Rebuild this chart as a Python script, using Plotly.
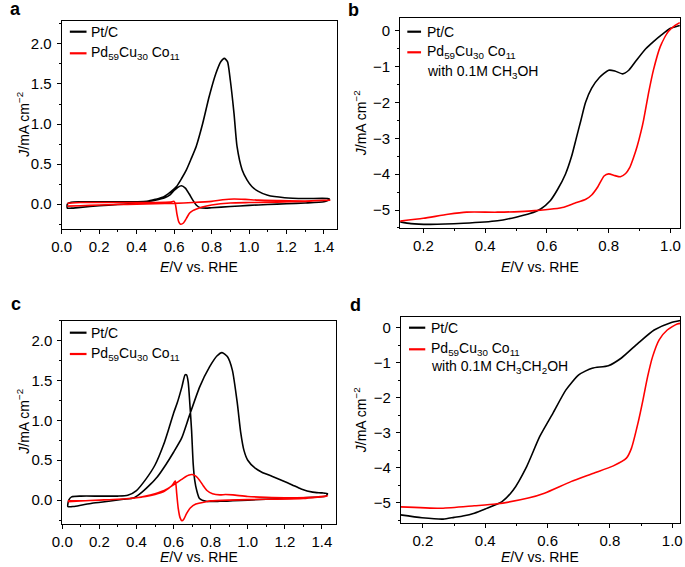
import plotly.graph_objects as go

W, H = 685, 567

# ---------------- DATA ----------------
# Panel a: CV in methanol (E / V vs RHE, J / mA cm^-2)
a_pt_E = [0.03, 0.05, 0.1, 0.2, 0.3, 0.4, 0.455, 0.5, 0.543, 0.58, 0.613, 0.64, 0.665, 0.69, 0.718, 0.753, 0.787,
          0.823, 0.85, 0.868, 0.885, 0.90, 0.92, 0.936, 0.963, 0.99, 1.015, 1.05, 1.10, 1.19, 1.3, 1.42, 1.43,
          1.42, 1.40, 1.3, 1.2, 1.1, 1.0, 0.9, 0.8, 0.77, 0.74, 0.718, 0.70, 0.68, 0.66, 0.639, 0.62, 0.60, 0.58,
          0.55, 0.5, 0.45, 0.4, 0.3, 0.2, 0.1, 0.05, 0.03, 0.03]
a_pt_J = [0.0, 0.025, 0.03, 0.03, 0.03, 0.03, 0.035, 0.06, 0.09, 0.15, 0.22, 0.32, 0.425, 0.56, 0.72, 1.01, 1.34,
          1.63, 1.78, 1.82, 1.78, 1.55, 1.13, 0.72, 0.43, 0.30, 0.22, 0.16, 0.11, 0.08, 0.07, 0.07, 0.06,
          0.045, 0.03, 0.015, 0.005, -0.005, -0.015, -0.03, -0.045, -0.05, -0.045, -0.01, 0.05, 0.13, 0.2, 0.23,
          0.21, 0.17, 0.12, 0.08, 0.05, 0.03, 0.015, -0.005, -0.02, -0.04, -0.05, -0.05, 0.0]
a_pd_E = [0.03, 0.1, 0.2, 0.3, 0.4, 0.5, 0.6, 0.7, 0.8, 0.86, 0.92, 0.98, 1.05, 1.15, 1.3, 1.43,
          1.3, 1.15, 1.0, 0.9, 0.8, 0.75, 0.72, 0.70, 0.683, 0.665, 0.65, 0.635, 0.625, 0.615, 0.607, 0.60,
          0.58, 0.5, 0.4, 0.3, 0.2, 0.1, 0.03]
a_pd_J = [-0.025, -0.02, -0.01, -0.005, 0.0, 0.005, 0.01, 0.02, 0.035, 0.055, 0.065, 0.06, 0.05, 0.045, 0.04, 0.05,
          0.035, 0.025, 0.02, 0.015, -0.01, -0.035, -0.06, -0.08, -0.11, -0.18, -0.235, -0.25, -0.22, -0.12, 0.0, 0.035,
          0.025, 0.02, 0.02, 0.02, 0.02, 0.02, 0.01]

# Panel b: ORR polarization with 0.1 M CH3OH
b_pt_E = [0.125, 0.16, 0.22, 0.33, 0.44, 0.50, 0.545, 0.58, 0.61, 0.635, 0.66, 0.68, 0.695, 0.71, 0.725, 0.745,
          0.77, 0.80, 0.82, 0.845, 0.865, 0.89, 0.92, 0.945, 0.97, 1.0, 1.03]
b_pt_J = [-5.33, -5.38, -5.40, -5.37, -5.30, -5.20, -5.10, -4.97, -4.75, -4.42, -4.0, -3.5, -3.0, -2.5, -2.0, -1.6,
          -1.3, -1.1, -1.12, -1.2, -1.1, -0.82, -0.5, -0.3, -0.12, 0.07, 0.15]
b_pd_E = [0.125, 0.20, 0.28, 0.34, 0.44, 0.54, 0.65, 0.69, 0.726, 0.745, 0.765, 0.785, 0.80, 0.82, 0.838, 0.855,
          0.868, 0.88, 0.892, 0.905, 0.913, 0.929, 0.945, 0.967, 0.993, 1.015, 1.03]
b_pd_J = [-5.31, -5.23, -5.12, -5.06, -5.06, -5.03, -4.93, -4.81, -4.70, -4.58, -4.35, -4.05, -3.99, -4.04, -4.07,
          -3.98, -3.82, -3.55, -3.23, -2.8, -2.49, -1.74, -1.09, -0.44, -0.02, 0.15, 0.23]

# Panel c: CV in ethanol
c_pt_E = [0.03, 0.06, 0.1, 0.16, 0.25, 0.33, 0.388, 0.43, 0.476, 0.512, 0.56, 0.60, 0.644, 0.684, 0.741, 0.794,
          0.835, 0.861, 0.89, 0.917, 0.944, 0.962, 0.98, 1.0, 1.04, 1.076, 1.13, 1.182, 1.24, 1.288, 1.35, 1.40, 1.43,
          1.42, 1.3, 1.2, 1.0, 0.85, 0.776, 0.74, 0.725, 0.714, 0.706, 0.697, 0.688, 0.679, 0.67, 0.662, 0.645,
          0.62, 0.60, 0.575, 0.547, 0.50, 0.45, 0.40, 0.353, 0.3, 0.2, 0.1, 0.05, 0.035, 0.03]
c_pt_J = [-0.08, -0.08, -0.065, -0.04, -0.015, 0.01, 0.03, 0.1, 0.2, 0.29, 0.45, 0.6, 0.78, 1.05, 1.42, 1.67,
          1.81, 1.85, 1.80, 1.63, 1.21, 0.85, 0.62, 0.50, 0.40, 0.35, 0.30, 0.25, 0.19, 0.14, 0.10, 0.09, 0.08,
          0.05, 0.03, 0.02, 0.0, -0.015, -0.015, 0.02, 0.12, 0.25, 0.45, 0.88, 1.2, 1.48, 1.57, 1.57, 1.42,
          1.22, 1.09, 0.9, 0.7, 0.44, 0.26, 0.12, 0.06, 0.05, 0.05, 0.05, 0.04, 0.0, -0.08]
c_pd_E = [0.03, 0.1, 0.2, 0.3, 0.4, 0.45, 0.5, 0.55, 0.6, 0.65, 0.68, 0.70, 0.72, 0.74, 0.76, 0.78, 0.81, 0.85,
          0.88, 0.92, 1.0, 1.1, 1.2, 1.35, 1.43,
          1.3, 1.1, 0.9, 0.8, 0.776, 0.72, 0.69, 0.67, 0.655, 0.645, 0.635, 0.625, 0.617, 0.61, 0.603, 0.59,
          0.55, 0.5, 0.45, 0.4, 0.3, 0.2, 0.1, 0.03]
c_pd_J = [-0.01, -0.01, 0.0, 0.01, 0.03, 0.05, 0.08, 0.12, 0.19, 0.27, 0.31, 0.32, 0.30, 0.25, 0.18, 0.12, 0.08, 0.065,
          0.07, 0.065, 0.045, 0.035, 0.03, 0.035, 0.05,
          0.02, 0.01, 0.0, -0.01, -0.02, -0.05, -0.1, -0.17, -0.24, -0.26, -0.22, -0.1, 0.08, 0.24, 0.22, 0.18,
          0.11, 0.07, 0.045, 0.03, 0.01, 0.0, -0.01, -0.02]

# Panel d: ORR polarization with 0.1 M CH3CH2OH
d_pt_E = [0.128, 0.197, 0.265, 0.30, 0.328, 0.365, 0.40, 0.454, 0.49, 0.533, 0.575, 0.617, 0.659,
          0.70, 0.743, 0.795, 0.837, 0.89, 0.942, 0.995, 1.026]
d_pt_J = [-5.35, -5.43, -5.47, -5.42, -5.38, -5.30, -5.18, -4.97, -4.64, -3.97, -3.11, -2.45, -1.78,
          -1.35, -1.16, -1.09, -0.87, -0.45, -0.07, 0.14, 0.2]
d_pd_E = [0.128, 0.26, 0.365, 0.433, 0.538, 0.59, 0.675, 0.748, 0.811, 0.853, 0.869, 0.89, 0.906, 0.921, 0.937,
          0.958, 0.984, 1.016, 1.03]
d_pd_J = [-5.12, -5.16, -5.09, -5.04, -4.87, -4.73, -4.40, -4.16, -3.95, -3.73, -3.45, -2.73, -2.07, -1.40, -0.83,
          -0.35, -0.07, 0.1, 0.12]

legend_pt = "Pt/C"
legend_pd = "Pd<sub>59</sub>Cu<sub>30</sub> Co<sub>11</sub>"
legend_b_extra = "with 0.1M CH<sub>3</sub>OH"
legend_d_extra = "with 0.1M CH<sub>3</sub>CH<sub>2</sub>OH"
xtitle = "<i>E</i>/V vs. RHE"
ytitle = "<i>J</i>/mA cm<sup>−2</sup>"

# ---------------- LAYOUT HELPERS ----------------
def fx(px):
    return px / W

def fy(py):
    return 1 - py / H

FONT = "Arial"
BLACK = "#000000"
RED = "#ff0000"
LW = 1.6
TICKSIZE = 15
LEGSIZE = 14
TITLESIZE = 14

panels = {
    "1": ((52.7, 333.0), (20.7, 229.0), [0.0, 1.468], [-0.31, 2.29], 0.2, 0.1, 0.5, 0.25),
    "2": ((397.7, 683.0), (18.3, 228.3), [0.125, 1.031], [-5.51, 0.35], 0.2, 0.1, 1, 0.5),
    "3": ((53.3, 332.7), (320.7, 524.0), [0.0, 1.478], [-0.30, 2.25], 0.2, 0.1, 0.5, 0.25),
    "4": ((398.3, 683.0), (316.7, 523.3), [0.129, 1.025], [-5.59, 0.31], 0.2, 0.1, 1, 0.5),
}

fig = go.Figure()

series = [
    ("1", a_pt_E, a_pt_J, BLACK), ("1", a_pd_E, a_pd_J, RED),
    ("2", b_pt_E, b_pt_J, BLACK), ("2", b_pd_E, b_pd_J, RED),
    ("3", c_pt_E, c_pt_J, BLACK), ("3", c_pd_E, c_pd_J, RED),
    ("4", d_pt_E, d_pt_J, BLACK), ("4", d_pd_E, d_pd_J, RED),
]
for k, xs, ys, col in series:
    fig.add_trace(go.Scatter(
        x=xs, y=ys, mode="lines", showlegend=False, hoverinfo="skip",
        line=dict(color=col, width=LW, shape="spline", smoothing=0.6),
        xaxis="x" if k == "1" else "x" + k, yaxis="y" if k == "1" else "y" + k))

layout = dict(width=W, height=H, autosize=False, margin=dict(l=0, r=0, t=0, b=0, pad=0),
              paper_bgcolor="white", plot_bgcolor="white", showlegend=False,
              font=dict(family=FONT, size=TICKSIZE, color=BLACK))

for k, (xd, yd, xr, yr, xdt, xmn, ydt, ymn) in panels.items():
    xn = "xaxis" if k == "1" else "xaxis" + k
    yn = "yaxis" if k == "1" else "yaxis" + k
    xa = "x" if k == "1" else "x" + k
    ya = "y" if k == "1" else "y" + k
    common = dict(showgrid=False, zeroline=False, showline=True, linecolor=BLACK, linewidth=1,
                  mirror=True, ticks="outside", ticklen=4, tickwidth=1, tickcolor=BLACK,
                  tickfont=dict(family=FONT, size=TICKSIZE, color=BLACK))
    layout[xn] = dict(domain=[fx(xd[0]), fx(xd[1])], range=xr, anchor=ya, tick0=0, dtick=xdt,
                      tickformat=".1f",
                      minor=dict(ticks="outside", ticklen=2, tickcolor=BLACK, dtick=xmn, tick0=0),
                      **common)
    layout[yn] = dict(domain=[fy(yd[1]), fy(yd[0])], range=yr, anchor=xa, tick0=0, dtick=ydt,
                      tickformat=".1f" if ydt == 0.5 else "d", ticklabelstandoff=2,
                      minor=dict(ticks="outside", ticklen=2, tickcolor=BLACK, dtick=ymn, tick0=0),
                      **common)

annotations = []
shapes = []

# panel letters
for txt, px, py in [("a", 6, 9), ("b", 350, 10), ("c", 6, 304), ("d", 352, 305)]:
    annotations.append(dict(text="<b>%s</b>" % txt, x=fx(px), y=fy(py), xref="paper", yref="paper",
                            showarrow=False, xanchor="center", yanchor="middle",
                            font=dict(family=FONT, size=18, color=BLACK)))

# axis titles
for cx, cy in [(193, 267), (540, 267), (193, 557), (540, 557)]:
    annotations.append(dict(text=xtitle, x=fx(cx), y=fy(cy), xref="paper", yref="paper",
                            showarrow=False, xanchor="center", yanchor="middle",
                            font=dict(family=FONT, size=TITLESIZE, color=BLACK)))
for cx, cy in [(13, 125), (357, 123), (13, 422), (357, 420)]:
    annotations.append(dict(text=ytitle, x=fx(cx), y=fy(cy), xref="paper", yref="paper",
                            showarrow=False, xanchor="center", yanchor="middle", textangle=-90,
                            font=dict(family=FONT, size=TITLESIZE, color=BLACK)))

# legends (swatch lines + labels)
legends = [
    (61, 78, 81, 31.7, 53.3, None, None),
    (405, 419, 422.7, 31.7, 52.3, legend_b_extra, 71.7),
    (61, 78, 81, 332.7, 354.0, None, None),
    (406.7, 423.3, 427.3, 327.7, 349.3, legend_d_extra, 367.3),
]
for x0, x1, tx, yb, yr_, extra, ye in legends:
    for yy, col, txt in [(yb, BLACK, legend_pt), (yr_, RED, legend_pd)]:
        shapes.append(dict(type="line", xref="paper", yref="paper", x0=fx(x0), x1=fx(x1), y0=fy(yy), y1=fy(yy),
                           line=dict(color=col, width=2.2)))
        annotations.append(dict(text=txt, x=fx(tx), y=fy(yy), xref="paper", yref="paper", showarrow=False,
                                xanchor="left", yanchor="middle",
                                font=dict(family=FONT, size=LEGSIZE, color=BLACK)))
    if extra:
        annotations.append(dict(text=extra, x=fx(tx), y=fy(ye), xref="paper", yref="paper", showarrow=False,
                                xanchor="left", yanchor="middle",
                                font=dict(family=FONT, size=LEGSIZE, color=BLACK)))

layout["annotations"] = annotations
layout["shapes"] = shapes
fig.update_layout(**layout)
fig.write_html("out.html", config={"displayModeBar": False, "staticPlot": True},
               post_script="document.body.style.margin='0';document.body.style.padding='0';"
                           "document.documentElement.style.overflow='hidden';")
